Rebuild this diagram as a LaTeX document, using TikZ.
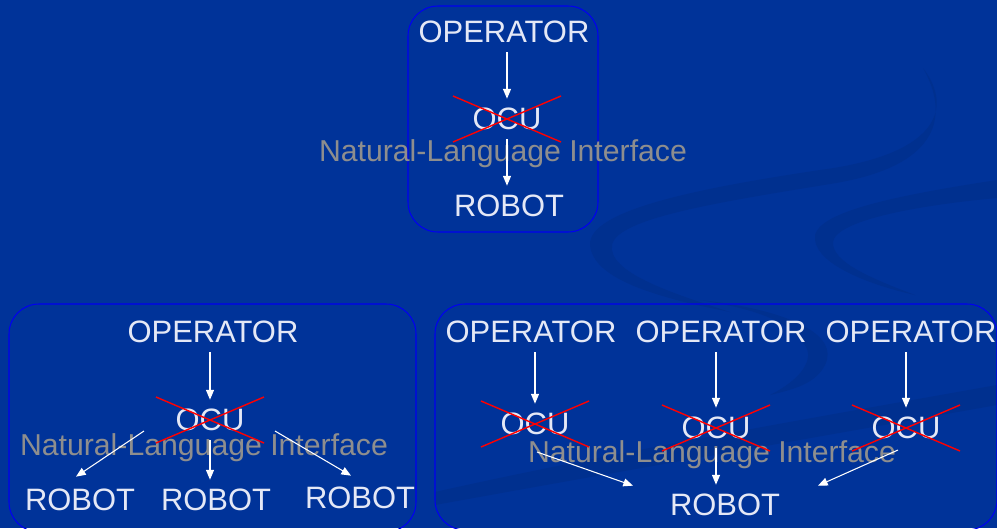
\documentclass[tikz,border=0pt]{standalone}
\usepackage{fontspec}
\setmainfont{Liberation Sans}
\usetikzlibrary{arrows.meta}
\definecolor{slidebg}{HTML}{003399}
\definecolor{swirl}{HTML}{00308F}
\definecolor{labelwhite}{HTML}{E4E8F6}
\definecolor{nligray}{HTML}{8E8E8E}
\definecolor{framebl}{HTML}{0000F0}
\tikzset{
  lbl/.style={text=labelwhite, font=\fontsize{17.6}{21}\selectfont, inner sep=0pt, minimum height=0.8cm},
  nli/.style={text=nligray, font=\fontsize{17.2}{21}\selectfont, inner sep=0pt},
  arr/.style={draw=white, line width=0.6pt, -{Triangle[length=5.5pt,width=4.5pt]}},
  crossout/.style={draw=red, line width=0.8pt},
  frame/.style={draw=framebl, line width=0.6pt, rounded corners=0.6cm},
}
\begin{document}
\begin{tikzpicture}[x=0.02cm,y=-0.02cm]
                \useasboundingbox (0,0) rectangle (997,528);
                \clip (0,0) rectangle (997,528);
                \fill[slidebg] (0,0) rectangle (997,528);

                % background swirl
                \fill[swirl] (923,68) .. controls (955,110) and (935,155) .. (820,170) .. controls (700,188) and (588,210) .. (590,245) .. controls (593,280) and (660,298) .. (730,312)
                    .. controls (668,292) and (608,272) .. (612,245) .. controls (617,218) and (720,202) .. (830,184) .. controls (945,166) and (948,112) .. (923,68);
                \fill[swirl] (997,180) .. controls (900,195) and (810,212) .. (815,240) .. controls (818,265) and (870,285) .. (915,295)
                    .. controls (870,278) and (832,262) .. (833,242) .. controls (836,220) and (920,205) .. (997,198);
                \fill[swirl] (435,492) .. controls (600,455) and (800,420) .. (997,385) -- (997,405) .. controls (800,440) and (600,475) .. (435,505);
                \fill[swirl] (700,300) .. controls (790,310) and (840,335) .. (825,365) .. controls (815,385) and (790,390) .. (770,395)
                    .. controls (800,380) and (815,360) .. (805,345) .. controls (790,320) and (750,308) .. (700,300);

                % frames
                \draw[frame] (408,6) rectangle (598,232);
                \draw[frame] (9,304) rectangle (416,532);
                \draw[frame] (435,304) rectangle (997,530);

                \node[nli] (nli1) at (503,154) {Natural-Language Interface};
                \node[nli] (nli2) at (204,448) {Natural-Language Interface};
                \node[nli] (nli3) at (712,455) {Natural-Language Interface};

                \node[lbl] (op1) at (504,32) {OPERATOR};
                \node[lbl] (ocu1) at (507,119) {OCU};
                \node[lbl] (rb1) at (509,206) {ROBOT};

                \node[lbl] (op2) at (213,332) {OPERATOR};
                \node[lbl] (ocu2) at (210,420) {OCU};
                \node[lbl] (rb21) at (80,500) {ROBOT};
                \node[lbl] (rb22) at (216,500) {ROBOT};
                \node[lbl] (rb23) at (360,498) {ROBOT};

                \node[lbl] (op3) at (531,332) {OPERATOR};
                \node[lbl] (op4) at (721,332) {OPERATOR};
                \node[lbl] (op5) at (911,332) {OPERATOR};
                \node[lbl] (ocu3) at (535,424) {OCU};
                \node[lbl] (ocu4) at (716,428) {OCU};
                \node[lbl] (ocu5) at (906,428) {OCU};
                \node[lbl] (rb3) at (725,505) {ROBOT};

                \draw[crossout] ([shift={(-54,-23)}]ocu1.center) -- ([shift={(54,23)}]ocu1.center); \draw[crossout] ([shift={(-54,23)}]ocu1.center) -- ([shift={(54,-23)}]ocu1.center);
                \draw[crossout] ([shift={(-54,-23)}]ocu2.center) -- ([shift={(54,23)}]ocu2.center); \draw[crossout] ([shift={(-54,23)}]ocu2.center) -- ([shift={(54,-23)}]ocu2.center);
                \draw[crossout] ([shift={(-54,-23)}]ocu3.center) -- ([shift={(54,23)}]ocu3.center); \draw[crossout] ([shift={(-54,23)}]ocu3.center) -- ([shift={(54,-23)}]ocu3.center);
                \draw[crossout] ([shift={(-54,-23)}]ocu4.center) -- ([shift={(54,23)}]ocu4.center); \draw[crossout] ([shift={(-54,23)}]ocu4.center) -- ([shift={(54,-23)}]ocu4.center);
                \draw[crossout] ([shift={(-54,-23)}]ocu5.center) -- ([shift={(54,23)}]ocu5.center); \draw[crossout] ([shift={(-54,23)}]ocu5.center) -- ([shift={(54,-23)}]ocu5.center);

                \draw[arr] (op1.south -| ocu1) -- (ocu1); \draw[arr] (ocu1) -- (ocu1 |- rb1.north);
                \draw[arr] (op2.south -| ocu2) -- (ocu2); \draw[arr] (ocu2.south) -- (ocu2 |- rb22.north);
                \draw[arr] ([shift={(-66,11)}]ocu2.center) -- ([shift={(-4,-3)}]rb21.north); \draw[arr] ([shift={(65,11)}]ocu2.center) -- ([shift={(-9,-2)}]rb23.north);
                \draw[arr] (op3.south -| ocu3) -- (ocu3); \draw[arr] (op4.south -| ocu4) -- (ocu4); \draw[arr] (op5.south -| ocu5) -- (ocu5);
                \draw[arr] ([shift={(2,28)}]ocu3.center) -- ([shift={(-92,1)}]rb3.north);
                \draw[arr] (ocu4) -- (ocu4 |- rb3.north);
                \draw[arr] ([shift={(-8,22)}]ocu5.center) -- ([shift={(93,1)}]rb3.north);
            \end{tikzpicture}
\end{document}
